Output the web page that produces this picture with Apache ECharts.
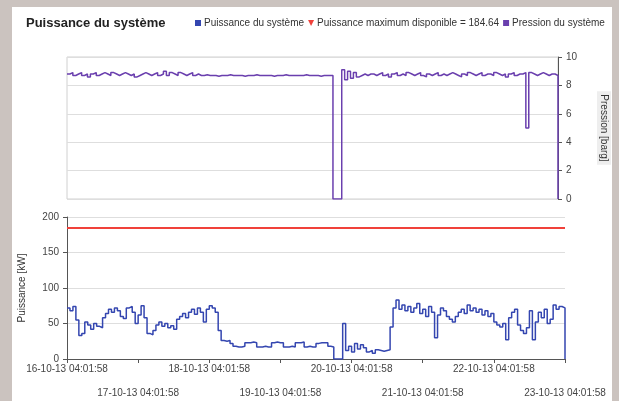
<!DOCTYPE html>
<html>
<head>
<meta charset="utf-8">
<script src="https://cdn.jsdelivr.net/npm/echarts@6/dist/echarts.min.js"></script>
<style>
    body { margin: 0; background: #cbc3bf; }
    #panel { position: absolute; left: 12px; top: 7px; width: 600px; height: 394px; background: #fff; }
    #chart { position: absolute; left: 0; top: 0; width: 619px; height: 401px; }
</style>
</head>
<body>
<div id="panel"></div>
<div id="chart"></div>
<script>
// day tick labels (one per 24 h)
var dayLabels = ['16-10-13 04:01:58', '17-10-13 04:01:58', '18-10-13 04:01:58', '19-10-13 04:01:58',
                 '20-10-13 04:01:58', '21-10-13 04:01:58', '22-10-13 04:01:58', '23-10-13 04:01:58'];

// hourly samples, hour 0 .. 168
var powerKW = [
    72, 68, 74, 55, 33, 36, 52, 48, 42, 50,
    46, 44, 58, 64, 70, 66, 72, 68, 60, 57,
    72, 74, 66, 50, 62, 75, 58, 36, 34, 40,
    48, 52, 46, 50, 44, 47, 42, 56, 60, 64,
    58, 66, 70, 63, 72, 66, 52, 70, 75, 72,
    66, 40, 26, 25, 26, 22, 18, 17, 17, 18,
    23, 23, 24, 23, 17, 17, 18, 17, 17, 23,
    24, 23, 23, 17, 17, 18, 17, 23, 23, 24,
    17, 18, 17, 17, 22, 23, 23, 23, 18, 17,
    0, 0, 0, 50, 12, 18, 10, 22, 14, 20,
    16, 10, 12, 8, 13, 12, 11, 12, 13, 45,
    72, 83, 70, 76, 68, 74, 66, 72, 78, 64,
    70, 60, 74, 66, 30, 62, 72, 68, 60, 56,
    52, 60, 66, 70, 64, 76, 68, 72, 66, 70,
    62, 68, 60, 64, 52, 48, 45, 50, 27, 58,
    66, 70, 48, 40, 36, 44, 68, 27, 52, 66,
    58, 70, 50, 56, 76, 70, 74, 72, 0
];

var pressureBarg = [
    8.8, 8.9, 8.7, 8.8, 8.9, 8.7, 8.8, 8.6, 8.8, 8.9,
    8.7, 8.8, 8.9, 8.8, 8.7, 8.9, 8.8, 8.7, 8.8, 8.9,
    8.8, 8.7, 8.8, 8.6, 8.7, 8.8, 8.9, 8.8, 8.7, 8.8,
    8.9, 8.7, 8.8, 9.0, 8.7, 8.9, 8.8, 8.7, 8.9, 8.8,
    8.7, 8.8, 8.9, 8.7, 8.8, 8.7, 8.7, 8.75, 8.7, 8.7,
    8.7, 8.65, 8.7, 8.7, 8.7, 8.75, 8.7, 8.7, 8.7, 8.7,
    8.65, 8.7, 8.7, 8.7, 8.75, 8.7, 8.7, 8.7, 8.7, 8.7,
    8.65, 8.7, 8.7, 8.7, 8.75, 8.7, 8.7, 8.7, 8.7, 8.7,
    8.7, 8.75, 8.7, 8.7, 8.7, 8.7, 8.65, 8.7, 8.7, 8.7,
    8.7, 0, 0, 0, 9.1, 8.4, 9.0, 8.5, 8.9, 8.6,
    8.7, 8.8, 8.7, 8.8, 8.8, 8.7, 8.8, 8.9, 8.7, 8.8,
    8.6, 8.8, 8.9, 8.7, 8.8, 8.7, 8.9, 8.8, 8.7, 8.8,
    8.9, 8.7, 8.6, 8.8, 8.7, 8.8, 8.9, 8.7, 8.8, 8.7,
    8.8, 8.9, 8.8, 8.7, 8.6, 8.8, 8.7, 8.9, 8.8, 8.7,
    8.8, 8.9, 8.7, 8.8, 8.8, 8.7, 8.9, 8.8, 8.7, 8.8,
    8.6, 8.8, 8.9, 8.7, 8.8, 8.8, 8.9, 5.0, 8.9, 8.8,
    8.7, 8.8, 8.9, 8.8, 8.7, 8.8, 8.8, 8.7, 0
];

var maxPower = 184.64;

var powerColor = '#3446b0';
var pressureColor = '#6a3fae';
var maxColor = '#f0413a';

function pairs(values) {
    return values.map(function (v, i) { return [i, v]; });
}

// even days on the first label row, odd days on the second
function dayLabel(row) {
    return function (v) {
        var i = Math.round(v / 24);
        return i % 2 === row ? dayLabels[i] : '';
    };
}

var sysTitle = {
    text: 'Puissance du système',
    left: 21,
    top: 12,
    textStyle: { fontFamily: 'Liberation Sans', fontSize: 13, fontWeight: 'bold', color: '#222' }
};

var sysLegend = {
    left: 190,
    top: 13,
    width: 440,
    itemGap: 4,
    itemWidth: 6,
    itemHeight: 6,
    textStyle: { fontFamily: 'Liberation Sans', fontSize: 10, color: '#333', padding: [0, 0, 0, -2] },
    data: [
        { name: 'Puissance du système', icon: 'rect' },
        { name: 'Puissance maximum disponible = ' + maxPower, icon: 'path://M0,0L10,0L5,10Z' },
        { name: 'Pression du système', icon: 'rect' }
    ]
};

var axisText = { fontFamily: 'Liberation Sans', fontSize: 10, color: '#444' };

var option = {
    animation: false,
    textStyle: { fontFamily: 'Liberation Sans' },
    title: sysTitle,
    legend: sysLegend,
    grid: [
        { left: 67, right: 54, top: 57, height: 142, show: true, borderColor: '#d0d0d0', borderWidth: 1 },
        { left: 67, right: 54, top: 217, height: 142 }
    ],
    xAxis: [
        { gridIndex: 0, type: 'value', min: 0, max: 168, interval: 24, show: false },
        {
            gridIndex: 1, type: 'value', min: 0, max: 168, interval: 24,
            splitLine: { show: false },
            axisLine: { onZero: false, lineStyle: { color: '#555', width: 1 } },
            axisTick: { length: 4, lineStyle: { color: '#555' } },
            axisLabel: {
                fontFamily: 'Liberation Sans', fontSize: 10, color: '#444', margin: 5,
                showMinLabel: true, showMaxLabel: true, formatter: dayLabel(0)
            }
        },
        {
            gridIndex: 1, type: 'value', min: 0, max: 168, interval: 24, position: 'bottom',
            splitLine: { show: false },
            axisLine: { show: false, onZero: false },
            axisTick: { show: false },
            axisLabel: {
                fontFamily: 'Liberation Sans', fontSize: 10, color: '#444', margin: 29,
                showMinLabel: true, showMaxLabel: true, formatter: dayLabel(1)
            }
        }
    ],
    yAxis: [
        {
            gridIndex: 0, type: 'value', position: 'right', min: 0, max: 10, interval: 2,
            name: 'Pression [barg]', nameLocation: 'middle', nameRotate: -90, nameGap: 39,
            nameTextStyle: { fontFamily: 'Liberation Sans', fontSize: 10, color: '#333', backgroundColor: '#eeeeee', padding: [2, 3] },
            axisLine: { show: true, onZero: false, lineStyle: { color: '#555' } },
            axisTick: { show: true, length: 4, lineStyle: { color: '#555' } },
            axisLabel: axisText,
            splitLine: { lineStyle: { color: '#dedede' } }
        },
        {
            gridIndex: 1, type: 'value', min: 0, max: 200, interval: 50,
            name: 'Puissance [kW]', nameLocation: 'middle', nameRotate: 90, nameGap: 40,
            nameTextStyle: { fontFamily: 'Liberation Sans', fontSize: 10, color: '#333' },
            axisLine: { show: true, onZero: false, lineStyle: { color: '#555' } },
            axisTick: { show: true, length: 4, lineStyle: { color: '#555' } },
            axisLabel: axisText,
            splitLine: { lineStyle: { color: '#dedede' } }
        }
    ],
    series: [
        {
            name: 'Puissance du système',
            type: 'line', xAxisIndex: 1, yAxisIndex: 1,
            step: 'end', showSymbol: false,
            itemStyle: { color: powerColor },
            lineStyle: { color: powerColor, width: 1.5 },
            data: pairs(powerKW)
        },
        {
            name: 'Puissance maximum disponible = ' + maxPower,
            type: 'line', xAxisIndex: 1, yAxisIndex: 1,
            showSymbol: false,
            itemStyle: { color: maxColor },
            lineStyle: { color: maxColor, width: 2 },
            data: [[0, maxPower], [168, maxPower]]
        },
        {
            name: 'Pression du système',
            type: 'line', xAxisIndex: 0, yAxisIndex: 0,
            step: 'end', showSymbol: false,
            itemStyle: { color: pressureColor },
            lineStyle: { color: pressureColor, width: 1.5 },
            data: pairs(pressureBarg)
        }
    ]
};

var sysChart = echarts.init(document.getElementById('chart'));
sysChart.setOption(option, true);
</script>
</body>
</html>
